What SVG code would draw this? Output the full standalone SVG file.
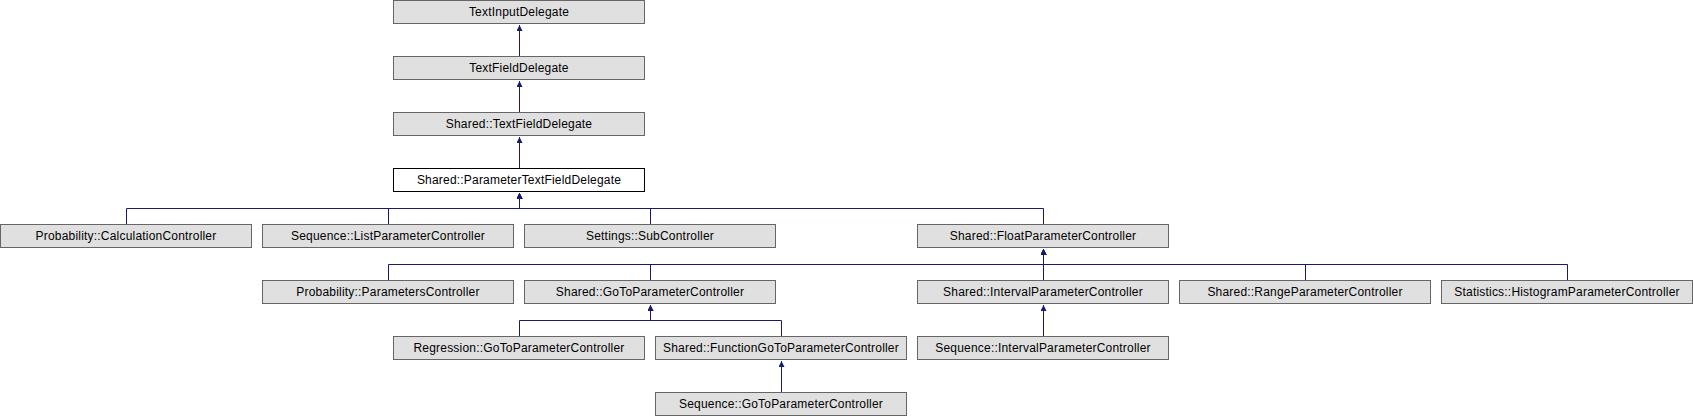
<svg xmlns="http://www.w3.org/2000/svg" width="1693" height="416" viewBox="0 0 1693 416">
<style>
.n rect{fill:#e0e0e0;stroke:#666666;stroke-width:1}
.n.cur rect{fill:#ffffff;stroke:#000000}
.n text{font-family:"Liberation Sans",Arial,sans-serif;font-size:12px;letter-spacing:0.2px;fill:#000;text-anchor:middle}
.e path{fill:none;stroke:#191970;stroke-width:1}
</style>
<defs>
<marker id="ah" markerUnits="userSpaceOnUse" markerWidth="6" markerHeight="6" viewBox="0 0 6 6" refX="6" refY="3" orient="auto">
<path d="M0,0 L6,3 L0,6 z" fill="#191970"/>
</marker>
</defs>
<g id="connectors" class="e">
<path d="M519.5,56 V25" marker-end="url(#ah)"/>
<path d="M519.5,112 V81" marker-end="url(#ah)"/>
<path d="M519.5,168 V137" marker-end="url(#ah)"/>
<path d="M126.5,224 V208.5 H519.5 V193" marker-end="url(#ah)"/>
<path d="M388.5,224 V208.5 H519.5 V193" marker-end="url(#ah)"/>
<path d="M650.5,224 V208.5 H519.5 V193" marker-end="url(#ah)"/>
<path d="M1043.5,224 V208.5 H519.5 V193" marker-end="url(#ah)"/>
<path d="M388.5,280 V264.5 H1043.5 V249" marker-end="url(#ah)"/>
<path d="M650.5,280 V264.5 H1043.5 V249" marker-end="url(#ah)"/>
<path d="M1043.5,280 V249" marker-end="url(#ah)"/>
<path d="M1305.5,280 V264.5 H1043.5 V249" marker-end="url(#ah)"/>
<path d="M1567.5,280 V264.5 H1043.5 V249" marker-end="url(#ah)"/>
<path d="M519.5,336 V320.5 H650.5 V305" marker-end="url(#ah)"/>
<path d="M781.5,336 V320.5 H650.5 V305" marker-end="url(#ah)"/>
<path d="M1043.5,336 V305" marker-end="url(#ah)"/>
<path d="M781.5,392 V361" marker-end="url(#ah)"/>
</g>
<g id="n1" class="n"><rect x="393.5" y="0.5" width="251" height="23"/><text x="519" y="16">TextInputDelegate</text></g>
<g id="n2" class="n"><rect x="393.5" y="56.5" width="251" height="23"/><text x="519" y="72">TextFieldDelegate</text></g>
<g id="n3" class="n"><rect x="393.5" y="112.5" width="251" height="23"/><text x="519" y="128">Shared::TextFieldDelegate</text></g>
<g id="n4" class="n cur"><rect x="393.5" y="168.5" width="251" height="23"/><text x="519" y="184">Shared::ParameterTextFieldDelegate</text></g>
<g id="n5" class="n"><rect x="0.5" y="224.5" width="251" height="23"/><text x="126" y="240">Probability::CalculationController</text></g>
<g id="n6" class="n"><rect x="262.5" y="224.5" width="251" height="23"/><text x="388" y="240">Sequence::ListParameterController</text></g>
<g id="n7" class="n"><rect x="524.5" y="224.5" width="251" height="23"/><text x="650" y="240">Settings::SubController</text></g>
<g id="n8" class="n"><rect x="917.5" y="224.5" width="251" height="23"/><text x="1043" y="240">Shared::FloatParameterController</text></g>
<g id="n9" class="n"><rect x="262.5" y="280.5" width="251" height="23"/><text x="388" y="296">Probability::ParametersController</text></g>
<g id="n10" class="n"><rect x="524.5" y="280.5" width="251" height="23"/><text x="650" y="296">Shared::GoToParameterController</text></g>
<g id="n11" class="n"><rect x="917.5" y="280.5" width="251" height="23"/><text x="1043" y="296">Shared::IntervalParameterController</text></g>
<g id="n12" class="n"><rect x="1179.5" y="280.5" width="251" height="23"/><text x="1305" y="296">Shared::RangeParameterController</text></g>
<g id="n13" class="n"><rect x="1441.5" y="280.5" width="251" height="23"/><text x="1567" y="296">Statistics::HistogramParameterController</text></g>
<g id="n14" class="n"><rect x="393.5" y="336.5" width="251" height="23"/><text x="519" y="352">Regression::GoToParameterController</text></g>
<g id="n15" class="n"><rect x="655.5" y="336.5" width="251" height="23"/><text x="781" y="352">Shared::FunctionGoToParameterController</text></g>
<g id="n16" class="n"><rect x="917.5" y="336.5" width="251" height="23"/><text x="1043" y="352">Sequence::IntervalParameterController</text></g>
<g id="n17" class="n"><rect x="655.5" y="392.5" width="251" height="23"/><text x="781" y="408">Sequence::GoToParameterController</text></g>
</svg>
